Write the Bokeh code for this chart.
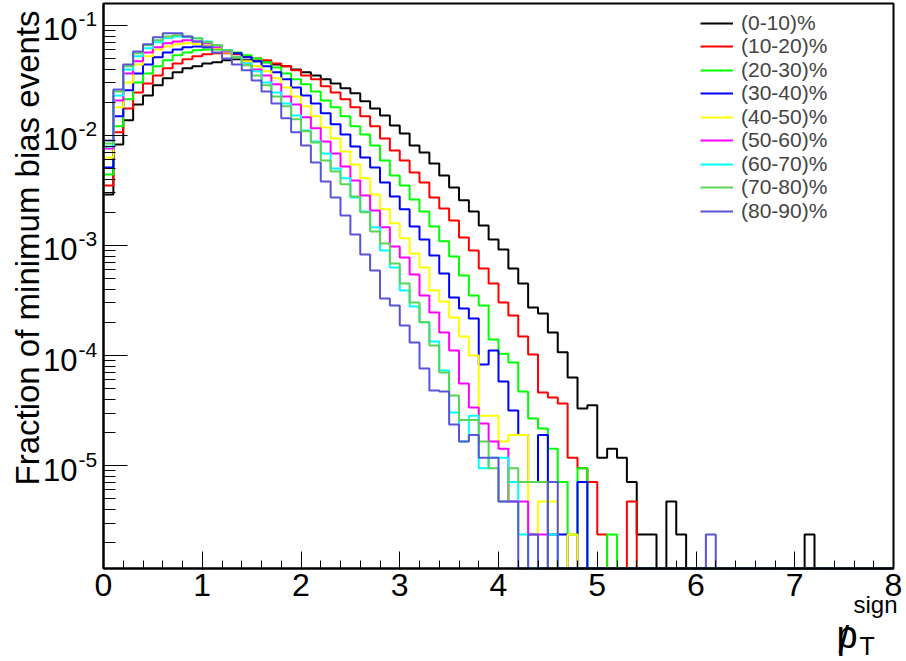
import math
from bokeh.plotting import figure
from bokeh.models import (Range1d, FixedTicker, SingleIntervalTicker, Label,
                          Legend, LegendItem, LinearAxis, LogAxis, BoxAnnotation)
from bokeh.embed import file_html
from bokeh.resources import INLINE

# ---------------- data ----------------
n_bins = 80
bin_width = 0.1

labels = ["(0-10)%", "(10-20)%", "(20-30)%", "(30-40)%", "(40-50)%",
          "(50-60)%", "(60-70)%", "(70-80)%", "(80-90)%"]
colors = ["#000000", "#ff0000", "#00ff00", "#0000ff", "#ffff00",
          "#ff00ff", "#00ffff", "#59d454", "#5954d8"]

cent_0_10 = [2.91e-3, 8.28e-3, 1.37e-2, 1.91e-2, 2.31e-2, 2.85e-2, 3.30e-2, 3.74e-2, 4.07e-2, 4.24e-2,
             4.51e-2, 4.61e-2, 4.81e-2, 4.91e-2, 4.81e-2, 4.71e-2, 4.61e-2, 4.42e-2, 4.24e-2, 3.98e-2,
             3.74e-2, 3.51e-2, 3.23e-2, 2.97e-2, 2.68e-2, 2.41e-2, 2.04e-2, 1.76e-2, 1.52e-2, 1.23e-2,
             1.04e-2, 8.11e-3, 7.01e-3, 5.57e-3, 4.33e-3, 3.37e-3, 2.57e-3, 2.04e-3, 1.52e-3, 1.13e-3,
             9.20e-4, 6.18e-4, 4.51e-4, 2.73e-4, 2.41e-4, 1.62e-4, 1.07e-4, 6.31e-5, 3.30e-5, 3.54e-5,
             1.18e-5, 1.42e-5, 1.18e-5, 7.08e-6, 2.36e-6, 2.36e-6, 0, 4.72e-6, 2.36e-6, 0,
             0, 0, 0, 0, 0, 0, 0, 0, 0, 0,
             0, 2.36e-6]
cent_10_20 = [3.51e-3, 1.07e-2, 1.76e-2, 2.46e-2, 2.97e-2, 3.51e-2, 4.07e-2, 4.51e-2, 4.91e-2, 5.23e-2,
              5.45e-2, 5.57e-2, 5.57e-2, 5.45e-2, 5.23e-2, 5.01e-2, 4.81e-2, 4.51e-2, 4.24e-2, 3.90e-2,
              3.51e-2, 3.23e-2, 2.79e-2, 2.46e-2, 2.13e-2, 1.80e-2, 1.49e-2, 1.21e-2, 9.39e-3, 7.31e-3,
              5.93e-3, 4.61e-3, 3.74e-3, 2.73e-3, 2.17e-3, 1.69e-3, 1.18e-3, 9.01e-4, 6.18e-4, 4.51e-4,
              3.03e-4, 2.31e-4, 1.49e-4, 1.02e-4, 4.61e-5, 4.15e-5, 3.66e-5, 1.18e-5, 9.44e-6, 7.08e-6,
              2.36e-6, 0, 0, 4.72e-6]
cent_20_30 = [4.42e-3, 1.21e-2, 2.13e-2, 3.03e-2, 3.66e-2, 4.24e-2, 4.81e-2, 5.34e-2, 5.68e-2, 5.93e-2,
              6.05e-2, 6.05e-2, 5.93e-2, 5.68e-2, 5.34e-2, 5.01e-2, 4.61e-2, 4.15e-2, 3.66e-2, 3.23e-2,
              2.91e-2, 2.51e-2, 2.08e-2, 1.80e-2, 1.49e-2, 1.21e-2, 1.02e-2, 8.11e-3, 5.93e-3, 4.33e-3,
              3.51e-3, 2.62e-3, 2.04e-3, 1.49e-3, 1.09e-3, 7.94e-4, 5.34e-4, 3.51e-4, 2.85e-4, 1.40e-4,
              1.04e-4, 8.64e-5, 4.71e-5, 2.68e-5, 2.17e-5, 1.42e-5, 7.08e-6, 2.36e-6, 9.44e-6, 0,
              0, 2.36e-6]
cent_30_40 = [5.12e-3, 1.49e-2, 2.57e-2, 3.66e-2, 4.42e-2, 5.12e-2, 5.68e-2, 6.05e-2, 6.31e-2, 6.44e-2,
              6.31e-2, 6.18e-2, 5.93e-2, 5.57e-2, 5.12e-2, 4.71e-2, 4.24e-2, 3.74e-2, 3.23e-2, 2.73e-2,
              2.31e-2, 1.95e-2, 1.59e-2, 1.26e-2, 1.02e-2, 7.94e-3, 6.31e-3, 5.12e-3, 3.74e-3, 2.79e-3,
              2.13e-3, 1.49e-3, 1.13e-3, 8.11e-4, 5.57e-4, 3.37e-4, 2.68e-4, 2.17e-4, 8.28e-5, 1.11e-4,
              5.80e-5, 3.16e-5, 1.89e-5, 7.08e-6, 1.89e-5, 2.36e-6, 2.36e-6, 0, 7.08e-6]
cent_40_50 = [6.31e-3, 1.80e-2, 3.03e-2, 4.42e-2, 5.23e-2, 6.05e-2, 6.44e-2, 6.72e-2, 6.86e-2, 6.72e-2,
              6.58e-2, 6.18e-2, 5.68e-2, 5.12e-2, 4.71e-2, 4.24e-2, 3.82e-2, 3.30e-2, 2.73e-2, 2.26e-2,
              1.84e-2, 1.49e-2, 1.18e-2, 9.39e-3, 7.15e-3, 5.45e-3, 4.07e-3, 2.91e-3, 2.13e-3, 1.59e-3,
              1.16e-3, 8.46e-4, 6.31e-4, 3.90e-4, 3.10e-4, 2.22e-4, 1.49e-4, 1.00e-4, 2.83e-5, 2.83e-5,
              1.65e-5, 1.89e-5, 1.89e-5, 2.36e-6, 4.72e-6, 4.72e-6, 0, 2.36e-6]
cent_50_60 = [7.62e-3, 2.08e-2, 3.66e-2, 4.71e-2, 5.68e-2, 6.31e-2, 6.86e-2, 7.15e-2, 7.31e-2, 7.15e-2,
              6.86e-2, 6.31e-2, 5.80e-2, 5.12e-2, 4.51e-2, 3.98e-2, 3.51e-2, 2.91e-2, 2.26e-2, 1.91e-2,
              1.46e-2, 1.16e-2, 8.82e-3, 6.86e-3, 5.23e-3, 3.90e-3, 2.85e-3, 2.08e-3, 1.46e-3, 9.79e-4,
              7.78e-4, 5.45e-4, 3.51e-4, 2.46e-4, 1.62e-4, 1.11e-4, 5.57e-5, 3.37e-5, 2.41e-5, 1.65e-5,
              1.42e-5, 4.72e-6, 4.72e-6, 2.36e-6, 2.36e-6]
cent_60_70 = [7.94e-3, 2.31e-2, 3.98e-2, 5.23e-2, 6.18e-2, 7.01e-2, 7.62e-2, 7.94e-2, 7.78e-2, 7.62e-2,
              7.15e-2, 6.58e-2, 5.93e-2, 5.12e-2, 4.51e-2, 3.82e-2, 3.03e-2, 2.46e-2, 1.95e-2, 1.52e-2,
              1.11e-2, 8.82e-3, 6.86e-3, 5.01e-3, 4.07e-3, 2.73e-3, 2.04e-3, 1.46e-3, 9.01e-4, 6.31e-4,
              3.90e-4, 2.79e-4, 2.00e-4, 1.34e-4, 7.31e-5, 3.03e-5, 1.65e-5, 2.83e-5, 9.44e-6, 1.18e-5,
              1.18e-5, 7.08e-6, 2.36e-6, 0, 0, 2.36e-6]
cent_70_80 = [8.46e-3, 2.51e-2, 4.24e-2, 5.57e-2, 6.58e-2, 7.31e-2, 7.94e-2, 8.11e-2, 7.94e-2, 7.62e-2,
              7.01e-2, 6.58e-2, 5.93e-2, 5.12e-2, 4.33e-2, 3.51e-2, 2.85e-2, 2.26e-2, 1.84e-2, 1.40e-2,
              1.09e-2, 8.64e-3, 5.93e-3, 4.71e-3, 3.59e-3, 2.79e-3, 2.00e-3, 1.34e-3, 1.04e-3, 6.86e-4,
              4.51e-4, 3.03e-4, 2.00e-4, 1.23e-4, 7.01e-5, 4.33e-5, 2.59e-5, 2.59e-5, 1.65e-5, 9.44e-6,
              4.72e-6, 9.44e-6, 7.08e-6, 7.08e-6, 7.08e-6]
cent_80_90 = [9.01e-3, 2.62e-2, 4.42e-2, 5.80e-2, 6.72e-2, 7.78e-2, 8.46e-2, 8.46e-2, 7.94e-2, 7.15e-2,
              6.44e-2, 5.68e-2, 5.01e-2, 4.42e-2, 3.90e-2, 3.16e-2, 2.51e-2, 1.95e-2, 1.43e-2, 1.07e-2,
              8.11e-3, 5.68e-3, 3.82e-3, 2.73e-3, 1.87e-3, 1.26e-3, 8.28e-4, 5.93e-4, 3.30e-4, 2.85e-4,
              1.87e-4, 1.31e-4, 7.62e-5, 4.81e-5, 4.72e-5, 2.36e-5, 1.65e-5, 1.89e-5, 1.18e-5, 1.18e-5,
              4.72e-6, 4.72e-6, 0, 2.36e-6, 0, 7.08e-6, 0, 0, 0, 0,
              0, 0, 0, 0, 0, 0, 0, 0, 0, 0,
              0, 2.36e-6]

series = [cent_0_10, cent_10_20, cent_20_30, cent_30_40, cent_40_50,
          cent_50_60, cent_60_70, cent_70_80, cent_80_90]

x_tick_interval = 1
y_ticks = [1e-5, 1e-4, 1e-3, 1e-2, 1e-1]
y_tick_exponents = ["-5", "-4", "-3", "-2", "-1"]
x_min, x_max = 0, 8            # axis (frame) limits
y_min, y_max = 1.16e-6, 0.158  # axis (frame) limits

FONT = "Liberation Sans"

# ---------------- layout geometry (pixels) ----------------
W, H = 906, 661
FRAME_L, FRAME_R, FRAME_T, FRAME_B = 103, 893, 3, 568
px_per_x = (FRAME_R - FRAME_L) / (x_max - x_min)
px_per_dec = (FRAME_B - FRAME_T) / (math.log10(y_max) - math.log10(y_min))
view_x = (x_min - FRAME_L / px_per_x, x_max + (W - FRAME_R) / px_per_x)
view_y = (y_min * 10 ** (-(H - FRAME_B) / px_per_dec), y_max * 10 ** (FRAME_T / px_per_dec))

p = figure(width=W, height=H,
           x_range=Range1d(*view_x), y_range=Range1d(*view_y),
           y_axis_type="log", x_axis_location=None, y_axis_location=None,
           output_backend="svg", toolbar_location=None,
           min_border=0, min_border_left=0, min_border_right=0,
           min_border_top=0, min_border_bottom=0)
p.background_fill_color = "white"
p.border_fill_color = "white"
p.grid.visible = False
p.outline_line_color = None

# axes drawn at the frame edges
xa = LinearAxis(fixed_location=y_min, bounds=(x_min, x_max))
xa.ticker = SingleIntervalTicker(interval=x_tick_interval, num_minor_ticks=5)
xa.major_tick_in = 17
xa.major_tick_out = 0
xa.minor_tick_in = 8
xa.minor_tick_out = 0
xa.axis_line_width = 2
xa.major_tick_line_width = 1
xa.minor_tick_line_width = 1
xa.major_label_text_font = FONT
xa.major_label_text_font_size = "32px"
xa.major_label_text_color = "black"
xa.major_label_standoff = 5
p.add_layout(xa, "below")

minor = [k * 10.0 ** e for e in range(-7, 0) for k in range(2, 10)
         if y_min < k * 10.0 ** e < y_max]
ya = LogAxis(fixed_location=x_min, bounds=(y_min, y_max))
ya.ticker = FixedTicker(ticks=y_ticks, minor_ticks=minor)
ya.major_tick_in = 24
ya.major_tick_out = 0
ya.minor_tick_in = 12
ya.minor_tick_out = 0
ya.axis_line_width = 2
ya.major_tick_line_width = 1
ya.minor_tick_line_width = 1
ya.major_label_text_font_size = "10px"
ya.major_label_text_alpha = 0
p.add_layout(ya, "left")

# histograms
edges = [round(i * bin_width, 2) for i in range(n_bins + 1)]
renderers = []
for vals, col in zip(series, colors):
    full = list(vals) + [0.0] * (n_bins - len(vals))
    ys = [v if v > 0 else y_min for v in full]
    ys.append(ys[-1])
    r = p.step(x=edges, y=ys, mode="after", line_color=col, line_width=2)
    renderers.append(r)

# frame box
p.add_layout(BoxAnnotation(left=x_min, right=x_max, bottom=y_min, top=y_max,
                           fill_alpha=0, line_color="black", line_width=2, line_alpha=1))

# y tick labels (10^n)
for t, e in zip(y_ticks, y_tick_exponents):
    p.add_layout(Label(x=x_min, y=t, text="10", x_offset=-26, y_offset=-4,
                       text_align="right", text_baseline="middle",
                       text_font=FONT, text_font_size="31px", text_color="black"))
    p.add_layout(Label(x=x_min, y=t, text=e, x_offset=-25, y_offset=6,
                       text_align="left", text_baseline="middle",
                       text_font=FONT, text_font_size="21px", text_color="black"))

# axis titles (screen units: from the bottom-left of the page)
p.add_layout(Label(x=27, y=H - 10, x_units="screen", y_units="screen",
                   text="Fraction of minimum bias events", angle=math.pi / 2,
                   text_align="right", text_baseline="middle",
                   text_font=FONT, text_font_size="33px", text_color="black"))
p.add_layout(Label(x=836, y=H - 634, x_units="screen", y_units="screen", text="p",
                   text_align="left", text_baseline="alphabetic",
                   text_font=FONT, text_font_size="38px", text_color="black"))
p.add_layout(Label(x=838, y=H - 639, x_units="screen", y_units="screen", text="/",
                   text_align="left", text_baseline="alphabetic",
                   text_font=FONT, text_font_size="38px", text_color="black"))
p.add_layout(Label(x=859, y=H - 645, x_units="screen", y_units="screen", text="T",
                   text_align="left", text_baseline="alphabetic",
                   text_font=FONT, text_font_size="25px", text_color="black"))
p.add_layout(Label(x=853, y=H - 604, x_units="screen", y_units="screen", text="sign",
                   text_align="left", text_baseline="alphabetic",
                   text_font=FONT, text_font_size="24px", text_color="black"))

# legend: one entry per row, rows 23.5 px apart starting 22.7 px from the top
LEG_X, LEG_FIRST, LEG_PITCH, LEG_ROW_H = 700, 22.7, 23.5, 24
for i, (l, r) in enumerate(zip(labels, renderers)):
    centre = LEG_FIRST + LEG_PITCH * i
    leg = Legend(items=[LegendItem(label=l, renderers=[r])],
                 location=(LEG_X, round(H - centre - LEG_ROW_H / 2)), orientation="vertical",
                 glyph_width=33, glyph_height=20, label_standoff=8, spacing=0,
                 padding=0, margin=0, border_line_alpha=0, background_fill_alpha=0,
                 label_text_font=FONT, label_text_font_size="21px")
    p.add_layout(leg)

open("out.html", "w").write(file_html(p, INLINE))
